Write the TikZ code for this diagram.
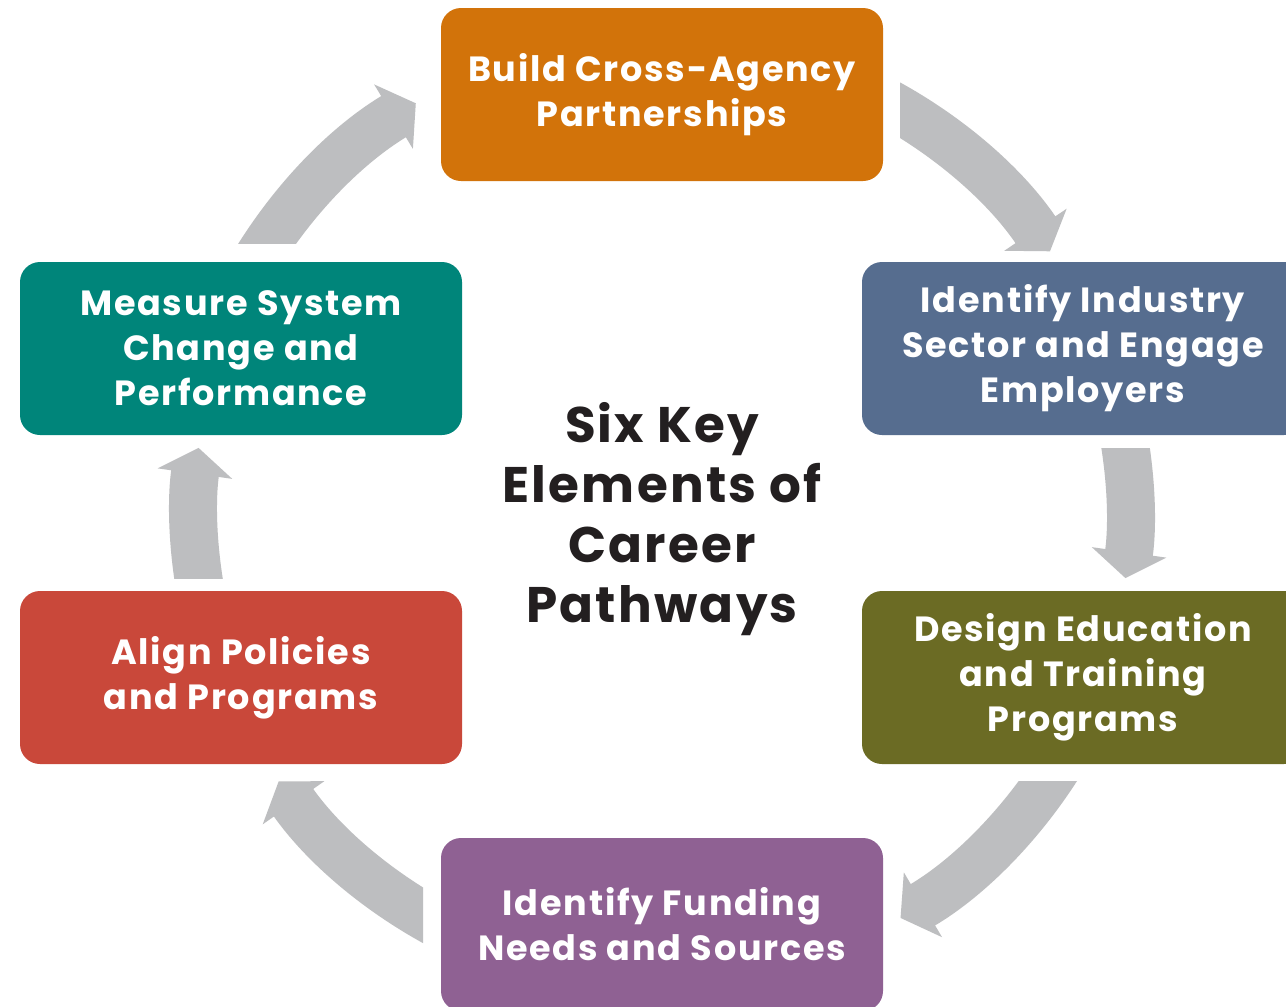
\documentclass[tikz,border=0pt]{standalone}
\usepackage{fontspec}
\setmainfont{Poppins}
\newfontfamily\boxfont[LetterSpace=5]{Poppins}
\newfontfamily\titlefont[LetterSpace=4.5]{Poppins}
\usetikzlibrary{arrows.meta,calc}
\definecolor{cOrange}{HTML}{D2730A}
\definecolor{cSlate}{HTML}{566D8F}
\definecolor{cOlive}{HTML}{6B6B24}
\definecolor{cPurple}{HTML}{8F6193}
\definecolor{cRed}{HTML}{C9483A}
\definecolor{cTeal}{HTML}{00857A}
\definecolor{cGray}{HTML}{BDBEC0}
\definecolor{cInk}{HTML}{231F20}
\begin{document}
\begin{tikzpicture}[x=0.5pt,y=-0.5pt,
  box/.style={rounded corners=10pt, minimum width=221pt, minimum height=86.5pt,
    align=center, text=white, inner sep=0pt,
    font=\boxfont\bfseries\fontsize{17.5}{22.5}\selectfont},
  cyc/.style={line width=24pt, draw=cGray, -{Triangle[width=37pt,length=13pt]}}]
\useasboundingbox (0,0) rectangle (1286,1007);
\clip (0,0) rectangle (1286,1007);
\fill[white] (0,0) rectangle (1286,1007);
\coordinate (C) at (662,513);
% boxes
\node[box, fill=cOrange] (b1) at (662,94.5) {Build Cross-Agency\\Partnerships};
\node[box, fill=cSlate]  (b2) at (1083,348.5) {Identify Industry\\Sector and Engage\\Employers};
\node[box, fill=cOlive]  (b3) at (1083,677.5) {Design Education\\and Training\\Programs};
\node[box, fill=cPurple] (b4) at (662,924.5) {Identify Funding\\Needs and Sources};
\node[box, fill=cRed]    (b5) at (241,677.5) {Align Policies\\and Programs};
\node[box, fill=cTeal]   (b6) at (241,348.5) {Measure System\\Change and\\Performance};
\node[align=center, text=cInk, font=\titlefont\bfseries\fontsize{25}{30}\selectfont] (title) at (662,519)
  {Six Key\\Elements of\\Career\\Pathways};
% cycle arrows
\begin{scope}
  \clip (0,0) rectangle (1286,243);
  \draw[cyc] ($(C)+(206:478)$) arc[start angle=206, end angle=239, radius=478];
\end{scope}
\begin{scope}
  \clip (900,0) rectangle (1286,1007);
  \draw[cyc] ($(C)+(295:468)$) arc[start angle=295, end angle=326, radius=468];
\end{scope}
\begin{scope}
  \clip (0,448) rectangle (1286,1007);
  \draw[cyc] ($(C)+(346:468)$) arc[start angle=346, end angle=368, radius=468];
\end{scope}
\begin{scope}
  \clip (0,781) rectangle (1286,1007);
  \draw[cyc] ($(C)+(29:470)$) arc[start angle=29, end angle=59.5, radius=470];
\end{scope}
\begin{scope}
  \clip (0,0) rectangle (423,1007);
  \draw[cyc] ($(C)+(114:468)$) arc[start angle=114, end angle=145, radius=468];
\end{scope}
\begin{scope}
  \clip (0,0) rectangle (1286,578);
  \draw[cyc] ($(C)+(166:468)$) arc[start angle=166, end angle=188, radius=468];
\end{scope}
\end{tikzpicture}
\end{document}
